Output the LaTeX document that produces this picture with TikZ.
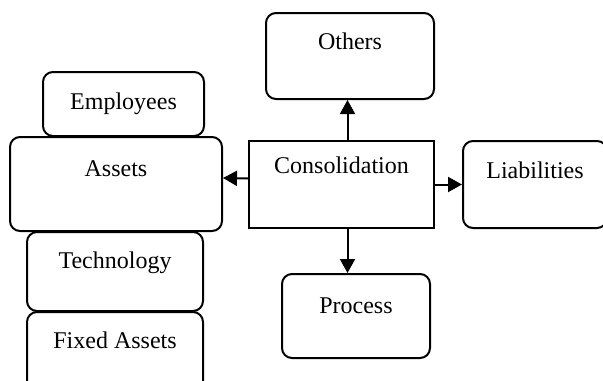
\documentclass[tikz,border=0pt]{standalone}
\usepackage{fontspec}
\setmainfont{Liberation Serif}
\usetikzlibrary{arrows.meta}
\begin{document}
\begin{tikzpicture}[x=0.5pt, y=-0.5pt, font=\fontsize{12}{14}\selectfont,
  box/.style={draw, line width=1pt, rounded corners=5pt, inner sep=0pt, anchor=north west},
  sz/.style n args={3}{minimum width=#1, text height=#2, text depth=#3},
  arr/.style={-{Triangle[length=7pt,width=7.5pt]}, line width=1pt}]
  \useasboundingbox (0,0) rectangle (603,380);
  \node[box, sz={84pt}{18pt}{25pt}] (others) at (265,12) {Others};
  \node[box, sz={92.5pt}{16pt}{27.5pt}, rounded corners=0pt] (consolidation) at (248,140) {Consolidation};
  \node[box, sz={72pt}{18.5pt}{25pt}] (liabilities) at (462,140) {Liabilities};
  \node[box, sz={74pt}{19.5pt}{22.5pt}] (process) at (281,273) {Process};
  \node[box, sz={80.5pt}{18.5pt}{13.5pt}] (employees) at (42,71) {Employees};
  \node[box, sz={106pt}{19.5pt}{27.5pt}] (assets) at (9,136) {Assets};
  \node[box, sz={88pt}{18pt}{21.5pt}] (technology) at (26,231) {Technology};
  \node[box, sz={88pt}{18pt}{22pt}] (fixed) at (26,311) {Fixed Assets};
  % connectors
  \draw[arr] ([yshift=3pt]consolidation.west) -- ([yshift=3pt]assets.east);
  \draw[arr] (consolidation.east) -- (liabilities.west);
  \draw[arr] ([xshift=3pt]consolidation.north) -- ([xshift=3pt]consolidation.north |- others.south);
  \draw[arr] ([xshift=3pt]consolidation.south) -- ([xshift=3pt]consolidation.south |- process.north);
\end{tikzpicture}
\end{document}
